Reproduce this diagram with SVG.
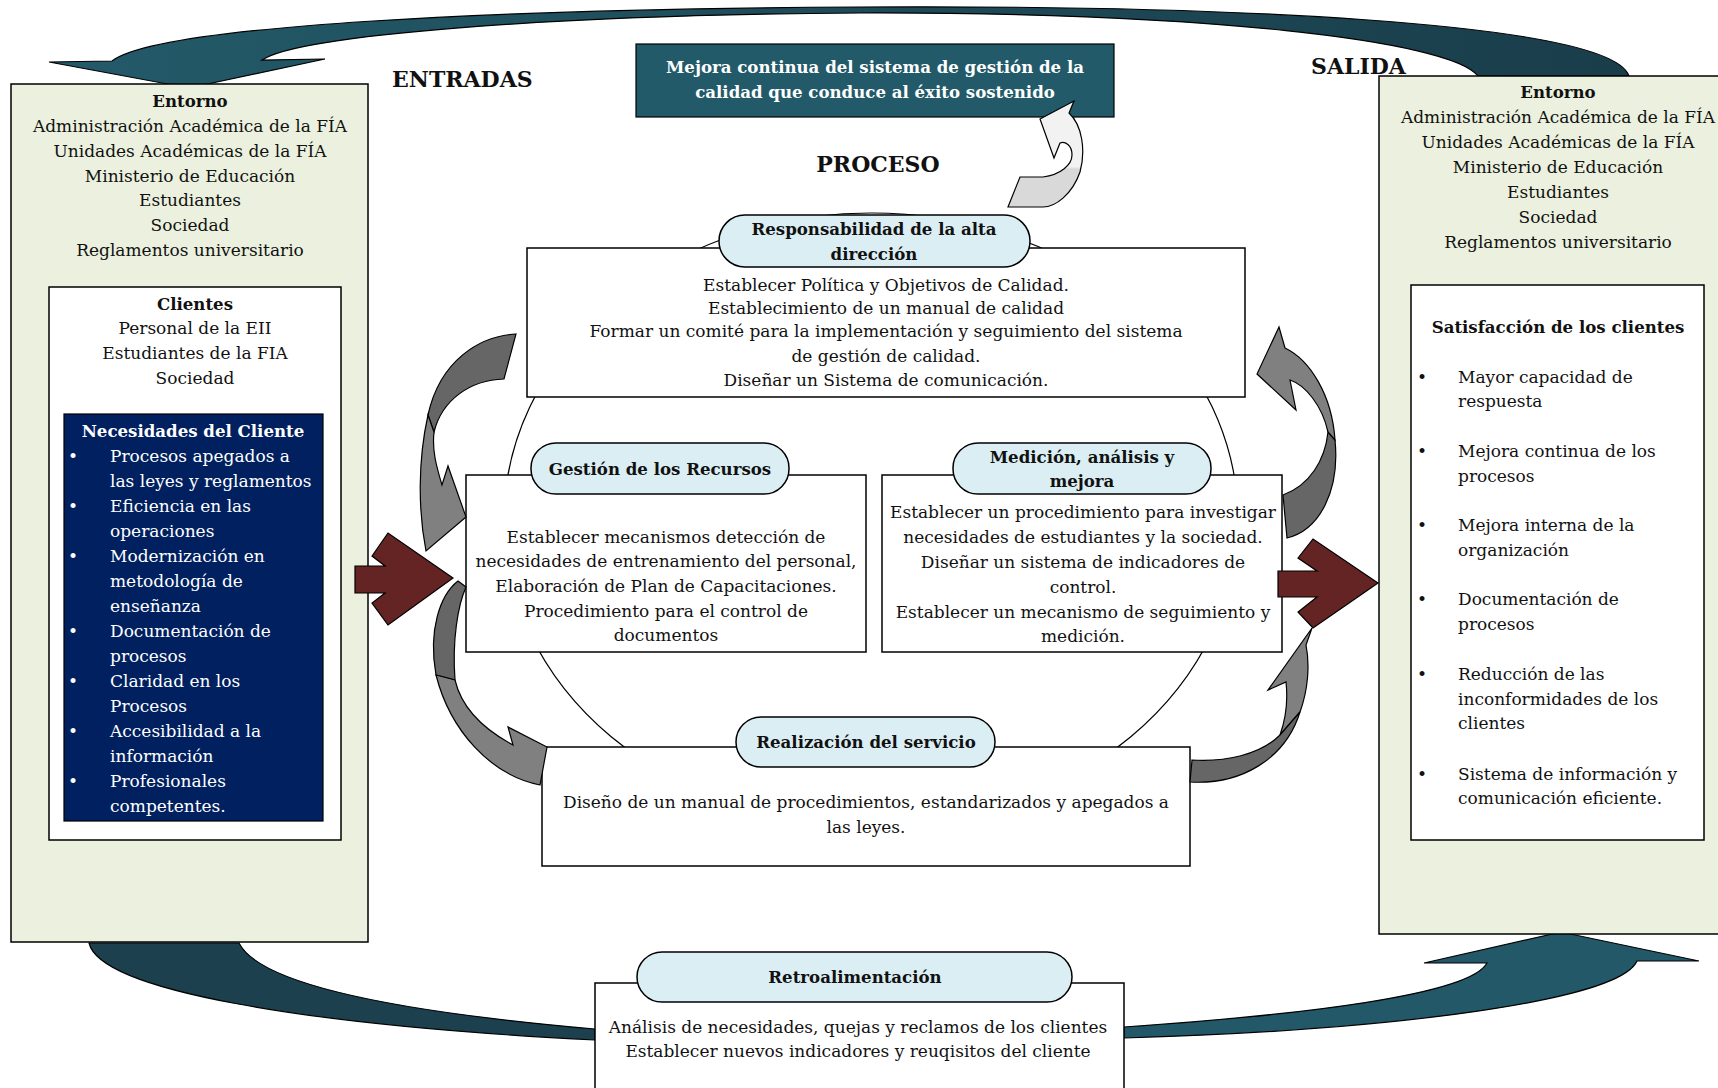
<svg xmlns="http://www.w3.org/2000/svg" width="1718" height="1088" viewBox="0 0 1718 1088">
<defs>
<style>
.tx{font-family:"DejaVu Serif","Liberation Serif",serif;font-size:17px;fill:#111}
.c{text-anchor:middle}
.bd{font-weight:bold;font-size:16.6px}
.w{fill:#fff}
.hd{font-family:"DejaVu Serif","Liberation Serif",serif;font-size:22px;font-weight:bold;fill:#111}
.box{fill:#fff;stroke:#000;stroke-width:1.5}
.env{fill:#ebf1de;stroke:#000;stroke-width:1.5}
.pill{fill:#dbeef4;stroke:#000;stroke-width:1.5}
.red{fill:#632423;stroke:#000;stroke-width:1.2}
.gd{fill:#666;stroke:#000;stroke-width:1.2}
.gl{fill:#808080;stroke:#000;stroke-width:1.2}
.band{stroke:#000;stroke-width:1.2}
</style>
<linearGradient id="topBand" x1="0" y1="0" x2="1" y2="0">
<stop offset="0" stop-color="#235a69"/>
<stop offset="1" stop-color="#1a3d4a"/>
</linearGradient>
<linearGradient id="lightArrow" x1="0" y1="0" x2="0" y2="1">
<stop offset="0.62" stop-color="#f2f2f2"/>
<stop offset="0.64" stop-color="#d9d9d9"/>
</linearGradient>
</defs>

<!-- feedback bands -->
<g id="connectors">
<path class="band" fill="url(#topBand)" d="M1629,76 C1610,20 1200,5 860,7 C500,9 160,25 112,61 L49,62 L189,88 L325,59 L262,60 C300,35 550,15 860,13 C1200,12 1450,40 1478,76 Z"/>
<path class="band" fill="#1c404d" d="M89,943 C100,990 300,1025 595,1040 L595,1029 C400,1012 260,985 239,943 Z"/>
<path class="band" fill="#225868" d="M1124,1027 C1300,1015 1470,995 1487,963 L1424,963 L1561,932 L1699,961 L1637,961 C1620,1000 1400,1030 1124,1038 Z"/>
</g>

<!-- input side -->
<g id="entorno-in">
<rect class="env" x="11" y="84" width="357" height="858"/>
<text class="tx c bd" x="190" y="107">Entorno</text>
<text class="tx c" x="190" y="132">Administración Académica de la FÍA</text>
<text class="tx c" x="190" y="157">Unidades Académicas de la FÍA</text>
<text class="tx c" x="190" y="182">Ministerio de Educación</text>
<text class="tx c" x="190" y="206">Estudiantes</text>
<text class="tx c" x="190" y="231">Sociedad</text>
<text class="tx c" x="190" y="256">Reglamentos universitario</text>
</g>
<g id="clientes">
<rect class="box" x="49" y="287" width="292" height="553"/>
<text class="tx c bd" x="195" y="310">Clientes</text>
<text class="tx c" x="195" y="334">Personal de la EII</text>
<text class="tx c" x="195" y="359">Estudiantes de la FIA</text>
<text class="tx c" x="195" y="384">Sociedad</text>
</g>
<g id="necesidades">
<rect x="64" y="414" width="259" height="407" fill="#002060" stroke="#000" stroke-width="1.2"/>
<text class="tx c bd w" x="193" y="437">Necesidades del Cliente</text>
<g class="tx w">
<text x="73" y="462" text-anchor="middle">•</text><text x="110" y="462">Procesos apegados a</text>
<text x="110" y="487">las leyes y reglamentos</text>
<text x="73" y="512" text-anchor="middle">•</text><text x="110" y="512">Eficiencia en las</text>
<text x="110" y="537">operaciones</text>
<text x="73" y="562" text-anchor="middle">•</text><text x="110" y="562">Modernización en</text>
<text x="110" y="587">metodología de</text>
<text x="110" y="612">enseñanza</text>
<text x="73" y="637" text-anchor="middle">•</text><text x="110" y="637">Documentación de</text>
<text x="110" y="662">procesos</text>
<text x="73" y="687" text-anchor="middle">•</text><text x="110" y="687">Claridad en los</text>
<text x="110" y="712">Procesos</text>
<text x="73" y="737" text-anchor="middle">•</text><text x="110" y="737">Accesibilidad a la</text>
<text x="110" y="762">información</text>
<text x="73" y="787" text-anchor="middle">•</text><text x="110" y="787">Profesionales</text>
<text x="110" y="812">competentes.</text>
</g>
</g>

<!-- output side -->
<g id="entorno-out">
<rect class="env" x="1379" y="76" width="350" height="858"/>
<text class="tx c bd" x="1558" y="98">Entorno</text>
<text class="tx c" x="1558" y="123">Administración Académica de la FÍA</text>
<text class="tx c" x="1558" y="148">Unidades Académicas de la FÍA</text>
<text class="tx c" x="1558" y="173">Ministerio de Educación</text>
<text class="tx c" x="1558" y="198">Estudiantes</text>
<text class="tx c" x="1558" y="223">Sociedad</text>
<text class="tx c" x="1558" y="248">Reglamentos universitario</text>
</g>
<g id="satisfaccion">
<rect class="box" x="1411" y="285" width="293" height="555"/>
<text class="tx c bd" x="1558" y="333">Satisfacción de los clientes</text>
<g class="tx">
<text x="1422" y="383" text-anchor="middle">•</text><text x="1458" y="383">Mayor capacidad de</text>
<text x="1458" y="407">respuesta</text>
<text x="1422" y="457" text-anchor="middle">•</text><text x="1458" y="457">Mejora continua de los</text>
<text x="1458" y="482">procesos</text>
<text x="1422" y="531" text-anchor="middle">•</text><text x="1458" y="531">Mejora interna de la</text>
<text x="1458" y="556">organización</text>
<text x="1422" y="605" text-anchor="middle">•</text><text x="1458" y="605">Documentación de</text>
<text x="1458" y="630">procesos</text>
<text x="1422" y="680" text-anchor="middle">•</text><text x="1458" y="680">Reducción de las</text>
<text x="1458" y="705">inconformidades de los</text>
<text x="1458" y="729">clientes</text>
<text x="1422" y="780" text-anchor="middle">•</text><text x="1458" y="780">Sistema de información y</text>
<text x="1458" y="804">comunicación eficiente.</text>
</g>
</g>

<!-- section headings -->
<text class="hd" x="392" y="87">ENTRADAS</text>
<text class="hd" x="878" y="172" text-anchor="middle">PROCESO</text>
<text class="hd" x="1311" y="74">SALIDA</text>

<g id="mejora">
<rect x="636" y="44" width="478" height="73" fill="#225a69" stroke="#000" stroke-width="1.2"/>
<text class="tx c bd w" x="875" y="73">Mejora continua del sistema de gestión de la</text>
<text class="tx c bd w" x="875" y="98">calidad que conduce al éxito sostenido</text>
</g>

<!-- process cycle ring -->
<ellipse cx="871" cy="520" rx="367" ry="307" fill="none" stroke="#000" stroke-width="1.2"/>

<g id="responsabilidad">
<rect class="box" x="527" y="248" width="718" height="149"/>
<rect class="pill" x="719" y="215" width="311" height="52" rx="26" ry="26"/>
<text class="tx c bd" x="874" y="235">Responsabilidad de la alta</text>
<text class="tx c bd" x="874" y="260">dirección</text>
<text class="tx c" x="886" y="291">Establecer Política y Objetivos de Calidad.</text>
<text class="tx c" x="886" y="314">Establecimiento de un manual de calidad</text>
<text class="tx c" x="886" y="337">Formar un comité para la implementación y seguimiento del sistema</text>
<text class="tx c" x="886" y="362">de gestión de calidad.</text>
<text class="tx c" x="886" y="386">Diseñar un Sistema de comunicación.</text>
</g>

<g id="recursos">
<rect class="box" x="466" y="475" width="400" height="177"/>
<rect class="pill" x="531" y="443" width="258" height="51" rx="25" ry="25"/>
<text class="tx c bd" x="660" y="475">Gestión de los Recursos</text>
<text class="tx c" x="666" y="543">Establecer mecanismos detección de</text>
<text class="tx c" x="666" y="567">necesidades de entrenamiento del personal,</text>
<text class="tx c" x="666" y="592">Elaboración de Plan de Capacitaciones.</text>
<text class="tx c" x="666" y="617">Procedimiento para el control de</text>
<text class="tx c" x="666" y="641">documentos</text>
</g>

<g id="medicion">
<rect class="box" x="882" y="475" width="400" height="177"/>
<rect class="pill" x="953" y="443" width="258" height="51" rx="25" ry="25"/>
<text class="tx c bd" x="1082" y="463">Medición, análisis y</text>
<text class="tx c bd" x="1082" y="487">mejora</text>
<text class="tx c" x="1083" y="518">Establecer un procedimiento para investigar</text>
<text class="tx c" x="1083" y="543">necesidades de estudiantes y la sociedad.</text>
<text class="tx c" x="1083" y="568">Diseñar un sistema de indicadores de</text>
<text class="tx c" x="1083" y="593">control.</text>
<text class="tx c" x="1083" y="618">Establecer un mecanismo de seguimiento y</text>
<text class="tx c" x="1083" y="642">medición.</text>
</g>

<g id="realizacion">
<rect class="box" x="542" y="747" width="648" height="119"/>
<rect class="pill" x="736" y="717" width="259" height="50" rx="25" ry="25"/>
<text class="tx c bd" x="866" y="748">Realización del servicio</text>
<text class="tx c" x="866" y="808">Diseño de un manual de procedimientos, estandarizados y apegados a</text>
<text class="tx c" x="866" y="833">las leyes.</text>
</g>

<g id="retroalimentacion">
<rect class="box" x="595" y="983" width="529" height="120"/>
<rect class="pill" x="637" y="952" width="435" height="50" rx="25" ry="25"/>
<text class="tx c bd" x="855" y="983">Retroalimentación</text>
<text class="tx c" x="858" y="1033">Análisis de necesidades, quejas y reclamos de los clientes</text>
<text class="tx c" x="858" y="1057">Establecer nuevos indicadores y reuqisitos del cliente</text>
</g>

<!-- cycle arrows and flow arrows -->
<g id="flow-arrows">
<path class="red" d="M355,566 L385,566 L372,556 L388,533 L453,578 L388,625 L372,603 L385,593 L355,593 Z"/>
<path class="red" d="M1278,571 L1317,571 L1298,558 L1313,539 L1378,583 L1313,628 L1298,612 L1317,597 L1278,597 Z"/>

<path class="gd" d="M516,334 C480,336 440,360 428,415 L434,432 C442,400 470,380 504,379 Z"/>
<path class="gl" d="M428,415 C418,460 418,510 426,551 L466,517 L448,466 L442,485 C436,465 432,450 434,432 Z"/>

<path class="gd" d="M458,581 C440,595 428,630 436,675 L455,680 C452,640 458,605 466,587 Z"/>
<path class="gl" d="M436,675 C450,730 490,775 540,785 L547,747 L508,727 L513,745 C485,730 462,710 455,680 Z"/>

<path class="gl" d="M1312,628 L1268,690 L1286,682 C1288,700 1286,718 1280,735 L1300,712 C1308,690 1310,665 1306,645 Z"/>
<path class="gd" d="M1280,735 C1260,755 1225,762 1192,760 L1190,782 C1240,785 1285,760 1300,712 Z"/>

<path class="gd" d="M1283,495 C1310,485 1325,460 1328,432 L1335,440 C1340,490 1320,530 1287,538 Z"/>
<path class="gl" d="M1328,432 C1322,405 1305,385 1290,380 L1296,410 L1257,374 L1279,327 L1285,348 C1310,360 1332,395 1335,440 Z"/>

<path fill="url(#lightArrow)" stroke="#000" stroke-width="1.2" d="M1074,101 L1069,113 C1082,125 1086,150 1080,172 C1072,195 1055,207 1043,207 L1008,207 L1020,177 L1043,177 C1060,175 1072,165 1072,155 C1072,145 1065,141 1060,143 L1054,158 L1040,119 Z"/>
</g>
</svg>
